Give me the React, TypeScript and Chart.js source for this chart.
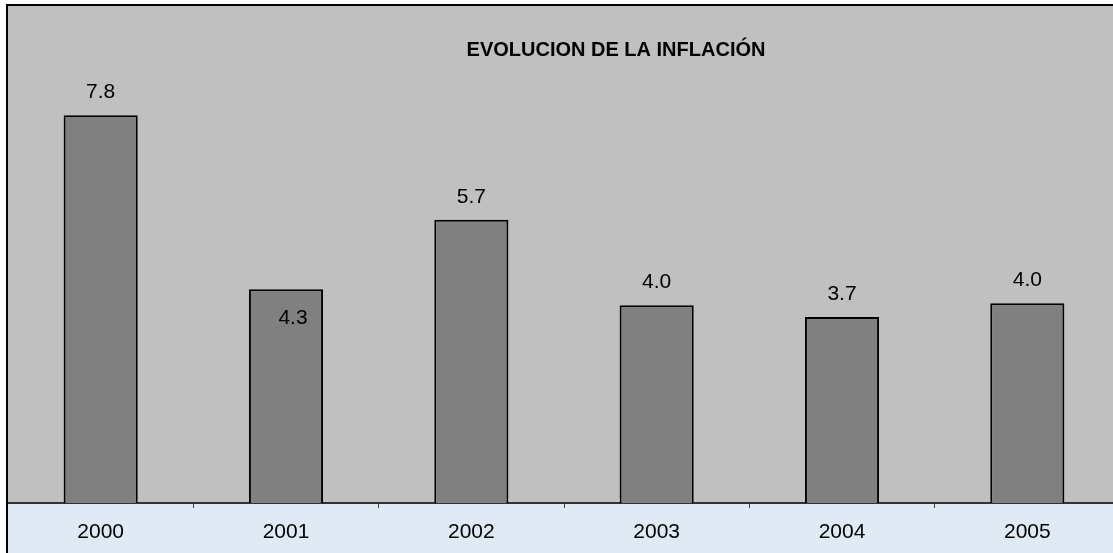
import React, { useEffect, useRef } from "react";
import { Chart, registerables } from "chart.js";

Chart.register(...registerables);

const TITLE = "EVOLUCION DE LA INFLACIÓN";
const years = ["2000", "2001", "2002", "2003", "2004", "2005"];
const inflation = [7.8, 4.3, 5.7, 3.98, 3.74, 4.02];
const labelInside = [false, true, false, false, false, false];

const FONT = "Arial, 'Liberation Sans', sans-serif";

const decorPlugin = {
  id: "decor",
  beforeDraw(chart: any) {
    const { ctx, chartArea, width, height } = chart;
    ctx.save();
    ctx.fillStyle = "#ffffff";
    ctx.fillRect(0, 0, width, height);
    ctx.fillStyle = "#C0C0C0";
    ctx.fillRect(chartArea.left, 5, width - chartArea.left, chartArea.bottom - 5);
    ctx.fillStyle = "#DFEAF5";
    ctx.fillRect(chartArea.left, chartArea.bottom, width - chartArea.left, height - chartArea.bottom);
    ctx.restore();
  },
  afterDraw(chart: any) {
    const { ctx, width, height } = chart;
    ctx.save();
    ctx.strokeStyle = "#000000";
    ctx.lineWidth = 2;
    ctx.beginPath();
    ctx.moveTo(6, 5);
    ctx.lineTo(width, 5);
    ctx.moveTo(7, 4);
    ctx.lineTo(7, height);
    ctx.stroke();
    // title
    ctx.fillStyle = "#000000";
    ctx.font = `bold 20px ${FONT}`;
    ctx.textAlign = "center";
    ctx.textBaseline = "middle";
    ctx.fillText(TITLE, 616, 50);
    // value labels
    const meta = chart.getDatasetMeta(0);
    ctx.font = `21px ${FONT}`;
    meta.data.forEach((bar: any, i: number) => {
      const txt = (Math.round(inflation[i] * 10) / 10).toFixed(1);
      if (labelInside[i]) {
        ctx.fillText(txt, bar.x + 7, bar.y + 29);
      } else {
        ctx.fillText(txt, bar.x, bar.y - 23);
      }
    });
    ctx.restore();
  },
};

export default function App() {
  const ref = useRef<HTMLCanvasElement>(null);
  useEffect(() => {
    document.body.style.margin = "0";
    const chart = new Chart(ref.current!, {
      type: "bar",
      data: {
        labels: years,
        datasets: [
          {
            data: inflation,
            backgroundColor: "#808080",
            borderColor: "#000000",
            borderWidth: 2,
            categoryPercentage: 1,
            barPercentage: 0.4,
          },
        ],
      },
      options: {
        animation: false,
        responsive: false,
        maintainAspectRatio: false,
        layout: { padding: { left: 8, top: 6, right: 0, bottom: 0 } },
        plugins: {
          legend: { display: false },
          tooltip: { enabled: false },
          title: { display: false },
        },
        scales: {
          y: { display: false, min: 0, max: 10 },
          x: {
            display: true,
            grid: {
              display: true,
              drawOnChartArea: false,
              drawTicks: true,
              tickLength: 5,
              color: "#404040",
              offset: true,
            },
            border: { display: true, color: "#333333", width: 2 },
            ticks: {
              color: "#000000",
              font: { family: FONT, size: 21 },
              padding: 12,
              maxRotation: 0,
            },
            afterFit(scale: any) {
              scale.height = 50;
            },
          },
        },
      },
      plugins: [decorPlugin],
    });
    return () => chart.destroy();
  }, []);
  return (
    <div style={{ position: "fixed", left: 0, top: 0, width: 1113, height: 553, overflow: "hidden" }}>
      <canvas ref={ref} width={1120} height={553} style={{ width: 1120, height: 553, display: "block" }} />
    </div>
  );
}
